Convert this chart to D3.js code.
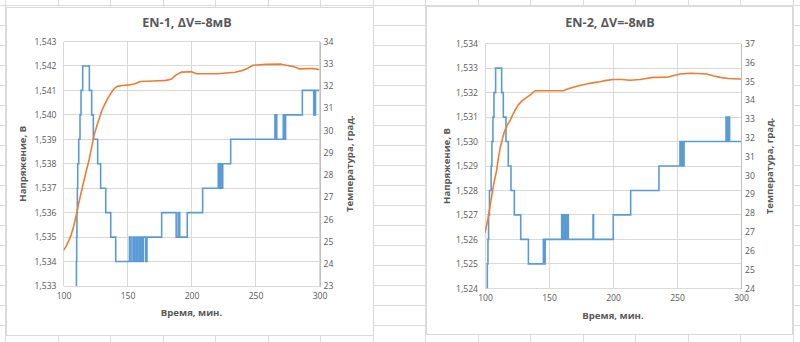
<!DOCTYPE html>
<html>
<head>
<meta charset="utf-8">
<script src="https://cdn.jsdelivr.net/npm/d3@7"></script>
<style>
  html, body { margin: 0; padding: 0; background: #fff; }
  svg { display: block; }
  text { font-family: "Open Sans", "Noto Sans", sans-serif; fill: #595959; }
</style>
</head>
<body>
<svg id="sheet" width="800" height="342"></svg>
<script>
// ---- data -------------------------------------------------------------
const timeTicks = [100, 150, 200, 250, 300];

const en1VoltTicks = [1.533, 1.534, 1.535, 1.536, 1.537, 1.538, 1.539, 1.540, 1.541, 1.542, 1.543];
const en1TempTicks = [23, 24, 25, 26, 27, 28, 29, 30, 31, 32, 33, 34];
const en2VoltTicks = [1.524, 1.525, 1.526, 1.527, 1.528, 1.529, 1.530, 1.531, 1.532, 1.533, 1.534];
const en2TempTicks = [24, 25, 26, 27, 28, 29, 30, 31, 32, 33, 34, 35, 36, 37];

// voltage, [time in min, V]; each value holds until the next sample
const en1Voltage = [
  [100, 1.531], [110.1, 1.534], [110.3, 1.535], [110.5, 1.536], [110.8, 1.537], [111.1, 1.538],
  [111.9, 1.539], [112.9, 1.540], [113.7, 1.541], [115.0, 1.542], [120.2, 1.541], [122.0, 1.540],
  [123.3, 1.539], [126.7, 1.538], [129.0, 1.537], [133.0, 1.536], [136.9, 1.535], [140.8, 1.534],
  [151.5, 1.535], [152.8, 1.534], [154.3, 1.535], [155.5, 1.534], [156.8, 1.535], [158.0, 1.534],
  [159.3, 1.535], [160.3, 1.534], [160.9, 1.535], [161.8, 1.534], [162.5, 1.535], [164.3, 1.534],
  [165.2, 1.535], [176.7, 1.536], [188.0, 1.535], [189.5, 1.536], [190.8, 1.535], [196.7, 1.536],
  [208.7, 1.537], [220.9, 1.538], [221.4, 1.537], [221.8, 1.538], [222.3, 1.537], [222.7, 1.538],
  [223.2, 1.537], [223.6, 1.538], [224.1, 1.537], [224.4, 1.538], [230.6, 1.539], [265.2, 1.540],
  [265.7, 1.539], [266.2, 1.540], [266.6, 1.539], [271.7, 1.540], [272.1, 1.539], [272.6, 1.540],
  [273.0, 1.539], [273.5, 1.540], [286.6, 1.541], [295.5, 1.540], [296.0, 1.541], [296.4, 1.540],
  [296.9, 1.541], [300, 1.541]
];

// temperature, [time in min, °C]
const en1Temp = [
  [100, 24.6], [102, 24.78], [104, 25.02], [106, 25.3], [108, 25.7], [110, 26.2], [112, 26.75],
  [114, 27.25], [116, 27.75], [118, 28.22], [120, 28.68], [122, 29.25], [124, 29.8], [126, 30.2],
  [128, 30.55], [130, 30.9], [132, 31.15], [134, 31.38], [136, 31.58], [138, 31.75], [140, 31.9],
  [142, 31.98], [146, 32.02], [152, 32.05], [156, 32.1], [160, 32.2], [170, 32.22], [180, 32.25],
  [184, 32.3], [188, 32.5], [192, 32.62], [200, 32.64], [204, 32.55], [220, 32.55], [234, 32.62],
  [240, 32.7], [244, 32.8], [248, 32.93], [258, 32.97], [270, 32.98], [274, 32.93], [280, 32.87],
  [284, 32.77], [290, 32.78], [296, 32.78], [300, 32.73]
];

const en2Voltage = [
  [100, 1.523], [101.8, 1.525], [102.3, 1.526], [102.8, 1.527], [103.5, 1.528], [104.8, 1.529],
  [105.4, 1.530], [106.2, 1.531], [107.0, 1.532], [108.3, 1.533], [113.0, 1.532], [114.3, 1.531],
  [116.4, 1.530], [118.2, 1.529], [120.3, 1.528], [122.9, 1.527], [127.9, 1.526], [133.9, 1.525],
  [145.6, 1.526], [145.9, 1.525], [146.3, 1.526], [146.6, 1.525], [147.0, 1.526],
  [159.9, 1.527], [160.3, 1.526], [160.7, 1.527], [161.1, 1.526], [161.5, 1.527], [161.9, 1.526],
  [162.3, 1.527], [162.7, 1.526], [163.1, 1.527], [163.5, 1.526], [163.9, 1.527], [164.3, 1.526],
  [164.7, 1.527], [165.1, 1.526], [184.4, 1.527], [184.8, 1.526], [200.2, 1.527], [213.8, 1.528],
  [235.9, 1.529], [252.3, 1.530], [252.7, 1.529], [253.1, 1.530], [253.5, 1.529], [253.9, 1.530],
  [254.3, 1.529], [254.7, 1.530], [255.1, 1.529], [255.5, 1.530], [288.3, 1.531], [288.7, 1.530],
  [289.1, 1.531], [289.5, 1.530], [289.9, 1.531], [290.3, 1.530], [290.7, 1.531], [291.1, 1.530],
  [300, 1.530]
];

const en2Temp = [
  [100, 26.95], [102.6, 27.8], [105.2, 28.9], [107, 29.6], [109.1, 30.27], [110.4, 30.9],
  [112, 31.5], [114, 32.05], [115.6, 32.4], [117.5, 32.7], [119.5, 32.9], [121.5, 33.2],
  [123.4, 33.45], [126, 33.75], [128.7, 33.95], [132, 34.12], [135.2, 34.27], [139.1, 34.5],
  [143, 34.5], [161.2, 34.5], [165, 34.6], [169, 34.68], [174, 34.78], [179.5, 34.86],
  [185, 34.93], [189.8, 34.98], [195, 35.05], [200.2, 35.1], [207, 35.1], [213.3, 35.06],
  [221.1, 35.1], [226, 35.15], [231.5, 35.21], [242, 35.22], [247, 35.3], [252.3, 35.39],
  [260.2, 35.43], [266, 35.42], [273.2, 35.39], [278, 35.3], [283.6, 35.21], [290, 35.15],
  [299.2, 35.12], [300, 35.12]
];

const titles = ["EN-1, \u0394V=-8мВ", "EN-2, \u0394V=-8мВ"];
const xTitle = "Время, мин.";
const yTitle = "Напряжение, В";
const y2Title = "Температура, град.";

// ---- drawing ----------------------------------------------------------
const svg = d3.select("#sheet");
const commaFmt = d3.formatLocale({ decimal: ",", thousands: " ", grouping: [3], currency: ["", ""] });
const fmtVolt = commaFmt.format(".3f");

// worksheet cell grid behind the charts
const sheet = svg.append("g").attr("shape-rendering", "crispEdges");
sheet.selectAll("line.col").data(d3.range(0, 16)).join("line")
  .attr("x1", d => 5.5 + 52.5 * d).attr("x2", d => 5.5 + 52.5 * d)
  .attr("y1", 0).attr("y2", 342).attr("stroke", "#dcdcdc");
sheet.selectAll("line.row").data(d3.range(0, 18)).join("line")
  .attr("x1", 0).attr("x2", 800)
  .attr("y1", d => 5 + 20 * d).attr("y2", d => 5 + 20 * d).attr("stroke", "#dcdcdc");

function drawChart(opt) {
  const g = svg.append("g");
  // chart area
  g.append("rect").attr("x", opt.box[0] + 0.5).attr("y", opt.box[1] + 0.5)
    .attr("width", opt.box[2]).attr("height", opt.box[3])
    .attr("fill", "#fff").attr("stroke", "#d9d9d9");

  const x = d3.scaleLinear().domain([100, 300]).range([opt.plot.left, opt.plot.right]);
  const y = d3.scaleLinear().domain(d3.extent(opt.voltTicks)).range([opt.plot.bottom, opt.plot.top]);
  const y2 = d3.scaleLinear().domain(d3.extent(opt.tempTicks)).range([opt.plot.bottom, opt.plot.top]);

  const grid = g.append("g").attr("shape-rendering", "crispEdges");
  grid.selectAll("line.h").data(opt.voltTicks).join("line")
    .attr("x1", opt.plot.left).attr("x2", opt.plot.right)
    .attr("y1", d => y(d)).attr("y2", d => y(d)).attr("stroke", "#d9d9d9");
  grid.selectAll("line.v").data(timeTicks).join("line")
    .attr("x1", d => x(d)).attr("x2", d => x(d))
    .attr("y1", opt.plot.top).attr("y2", opt.plot.bottom).attr("stroke", "#d9d9d9");

  // axes
  const axX = g.append("g").attr("transform", `translate(0,${opt.plot.bottom})`)
    .call(d3.axisBottom(x).tickValues(timeTicks).tickSize(0).tickPadding(7));
  const axY = g.append("g").attr("transform", `translate(${opt.plot.left},0)`)
    .call(d3.axisLeft(y).tickValues(opt.voltTicks).tickFormat(fmtVolt).tickSize(0).tickPadding(7));
  const axY2 = g.append("g").attr("transform", `translate(${opt.plot.right},0)`)
    .call(d3.axisRight(y2).tickValues(opt.tempTicks).tickSize(0).tickPadding(4));
  [axX, axY, axY2].forEach(a => {
    a.selectAll("text").style("font-size", "8.6px").attr("fill", "#595959");
  });
  axX.select(".domain").attr("stroke", "#d9d9d9").attr("shape-rendering", "crispEdges");
  axY.select(".domain").remove();
  axY2.select(".domain").attr("stroke", "#bfbfbf").attr("shape-rendering", "crispEdges");

  // series
  const clipId = "clip" + opt.id;
  g.append("clipPath").attr("id", clipId).append("rect")
    .attr("x", opt.plot.left).attr("y", opt.plot.top - 2)
    .attr("width", opt.plot.right - opt.plot.left).attr("height", opt.plot.bottom - opt.plot.top + 2);
  const series = g.append("g").attr("clip-path", `url(#${clipId})`);

  series.append("path").datum(opt.volt)
    .attr("d", d3.line().x(d => x(d[0])).y(d => y(d[1])).curve(d3.curveStepAfter))
    .attr("fill", "none").attr("stroke", "#5b9bd5").attr("stroke-width", 1.6);
  series.append("path").datum(opt.temp)
    .attr("d", d3.line().x(d => x(d[0])).y(d => y2(d[1])))
    .attr("fill", "none").attr("stroke", "#ed7d31").attr("stroke-width", 1.6)
    .attr("stroke-linejoin", "round");

  // titles
  const cx = (opt.plot.left + opt.plot.right) / 2;
  const cy = (opt.plot.top + opt.plot.bottom) / 2;
  g.append("text").attr("x", opt.titlePos[0]).attr("y", opt.titlePos[1])
    .attr("text-anchor", "middle").style("font-size", "12.6px").style("font-weight", "bold")
    .text(opt.title);
  g.append("text").attr("x", cx).attr("y", opt.xTitleY)
    .attr("text-anchor", "middle").style("font-size", "9.6px").style("font-weight", "bold")
    .text(xTitle);
  g.append("text").attr("transform", `translate(${opt.yTitleX},${cy}) rotate(-90)`)
    .attr("text-anchor", "middle").style("font-size", "9.6px").style("font-weight", "bold")
    .text(yTitle);
  g.append("text").attr("transform", `translate(${opt.y2TitleX},${cy}) rotate(-90)`)
    .attr("text-anchor", "middle").style("font-size", "9.6px").style("font-weight", "bold")
    .text(y2Title);
}

drawChart({
  id: 1, box: [6, 7, 367, 328],
  plot: { left: 63.5, right: 319.5, top: 41.5, bottom: 286 },
  voltTicks: en1VoltTicks, tempTicks: en1TempTicks,
  volt: en1Voltage, temp: en1Temp, title: titles[0],
  titlePos: [187, 27], xTitleY: 316, yTitleX: 26, y2TitleX: 353
});

drawChart({
  id: 2, box: [426, 6, 366, 328],
  plot: { left: 485, right: 741, top: 43.7, bottom: 288.3 },
  voltTicks: en2VoltTicks, tempTicks: en2TempTicks,
  volt: en2Voltage, temp: en2Temp, title: titles[1],
  titlePos: [610, 27], xTitleY: 318.5, yTitleX: 450, y2TitleX: 773
});
</script>
</body>
</html>
